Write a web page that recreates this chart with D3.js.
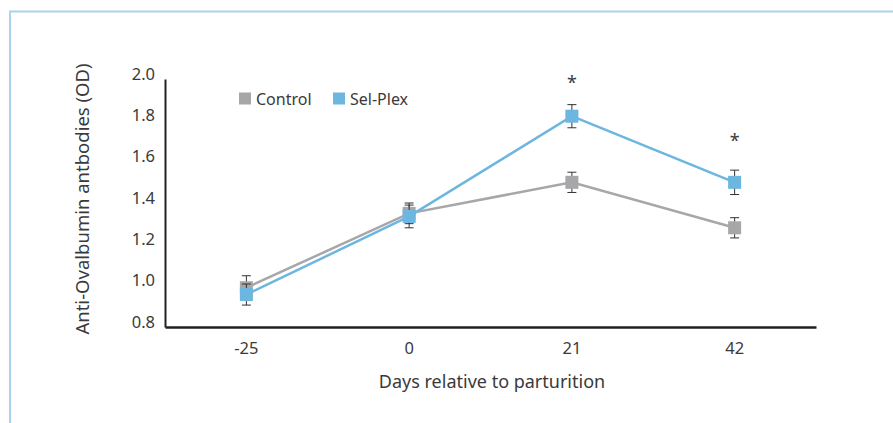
<html>
<head>
<script src="https://d3js.org/d3.v7.min.js"></script>
<style>
body { margin: 0; background: #fff; }
text { font-family: "Noto Sans", sans-serif; fill: #3a3a3a; }
</style>
</head>
<body>
<svg width="893" height="423"></svg>
<script>
// chart values
var days = ["-25", "0", "21", "42"];
var control = [0.99, 1.35, 1.50, 1.28];
var controlErr = [0.058, 0.05, 0.049, 0.049];
var selplex = [0.957, 1.335, 1.82, 1.50];
var selplexErr = [0.051, 0.055, 0.056, 0.059];
var stars = ["", "", "*", "*"];
var starLevel = [null, null, 2.0, 1.72];
var yTicks = [0.8, 1.0, 1.2, 1.4, 1.6, 1.8, 2.0];

var svg = d3.select("svg");

// light blue frame
svg.append("path")
  .attr("d", "M10,423 V11.5 H893")
  .attr("fill", "none")
  .attr("stroke", "#a9d4ee")
  .attr("stroke-width", 2);

var x = d3.scaleBand().domain(days).range([165, 816]);
var y = d3.scaleLinear().domain([0.8, 2.0]).range([327, 79]);

// axes
var yAxis = svg.append("g")
  .attr("transform", "translate(165,0)")
  .call(d3.axisLeft(y).tickValues(yTicks).tickFormat(d3.format(".1f")).tickSize(0).tickPadding(10));
yAxis.select(".domain").attr("stroke", "#231f20").attr("stroke-width", 2);
yAxis.selectAll("text").attr("dy", "0.0em").style("font-size", "16.5px").style("fill", "#3a3a3a");

var xAxis = svg.append("g")
  .attr("transform", "translate(0,327)")
  .call(d3.axisBottom(x).tickSize(0).tickPadding(15));
xAxis.select(".domain").attr("stroke", "#231f20").attr("stroke-width", 2.5);
xAxis.selectAll("text").style("font-size", "16.5px").style("fill", "#3a3a3a");

svg.append("text")
  .attr("transform", "translate(89,199) rotate(-90)")
  .attr("text-anchor", "middle")
  .style("font-size", "18.5px")
  .text("Anti-Ovalbumin antbodies (OD)");

svg.append("text")
  .attr("x", 492).attr("y", 388)
  .attr("text-anchor", "middle")
  .style("font-size", "18px")
  .text("Days relative to parturition");

var cx = function(d, i) { return x(days[i]) + x.bandwidth() / 2; };

function series(vals, errs, color) {
  var pts = vals.map(function(v, i) { return [cx(v, i), y(v)]; });
  svg.append("path")
    .attr("d", d3.line()(pts))
    .attr("fill", "none")
    .attr("stroke", color)
    .attr("stroke-width", 2.5);
  var g = svg.append("g");
  vals.forEach(function(v, i) {
    var px = cx(v, i), top = y(v + errs[i]), bot = y(v - errs[i]);
    g.append("line").attr("x1", px).attr("x2", px).attr("y1", top).attr("y2", bot)
      .attr("stroke", "#333").attr("stroke-width", 1);
    [top, bot].forEach(function(yy) {
      g.append("line").attr("x1", px - 4.5).attr("x2", px + 4.5).attr("y1", yy).attr("y2", yy)
        .attr("stroke", "#333").attr("stroke-width", 1);
    });
  });
  svg.append("g").selectAll("rect")
    .data(vals).enter().append("rect")
    .attr("x", function(d, i) { return cx(d, i) - 6.5; })
    .attr("y", function(d) { return y(d) - 6.5; })
    .attr("width", 13).attr("height", 13)
    .attr("fill", color);
}

series(control, controlErr, "#a7a7aa");
series(selplex, selplexErr, "#6cb6e0");

// significance marks
stars.forEach(function(s, i) {
  if (!s) return;
  svg.append("text")
    .attr("x", cx(0, i)).attr("y", y(starLevel[i]) + 10)
    .attr("text-anchor", "middle")
    .style("font-size", "18px")
    .text(s);
});

// legend
var legend = [["Control", "#a7a7aa", 239], ["Sel-Plex", "#6cb6e0", 333]];
legend.forEach(function(l) {
  svg.append("rect").attr("x", l[2]).attr("y", 92.5).attr("width", 12).attr("height", 12).attr("fill", l[1]);
  svg.append("text").attr("x", l[2] + 17).attr("y", 104.5).style("font-size", "16px").text(l[0]);
});
</script>
</body>
</html>
